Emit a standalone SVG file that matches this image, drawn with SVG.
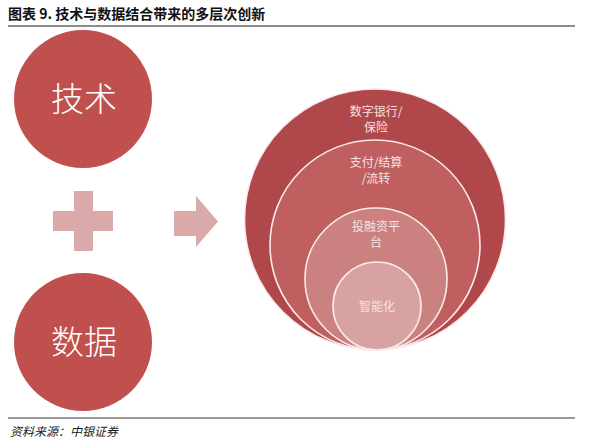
<svg xmlns="http://www.w3.org/2000/svg" width="597" height="444" viewBox="0 0 597 444">
<style>
.cj{font-family:"Noto Sans CJK SC","Noto Sans",sans-serif}
.big{font-size:33px;font-weight:300;fill:#fff;text-anchor:middle}
.lbl{font-size:12px;fill:#f5e2e1;text-anchor:middle}
.ring{stroke:#fbeaea;stroke-width:1.6}
</style>
<rect width="597" height="444" fill="#fff"/>
<text class="cj" x="8" y="19" font-size="14" font-weight="bold" fill="#111">图表 9. 技术与数据结合带来的多层次创新</text>
<line x1="8" y1="26" x2="575" y2="26" stroke="#8c8c8c" stroke-width="2"/>
<g id="tech"><circle cx="83" cy="99" r="69" fill="#c0504d"/><text class="cj big" x="84" y="111">技术</text></g>
<g id="data"><circle cx="83" cy="342" r="69" fill="#c0504d"/><text class="cj big" x="84" y="354">数据</text></g>
<g id="plus"><path d="M74 191H93V211H113V231H93V251H74V231H53V211H74Z" fill="#d9aaa9"/></g>
<g id="arrow"><path d="M174 211H196V196L218 221.5L196 247V236H174Z" fill="#d9aaa9"/></g>
<g id="layers">
<circle class="ring" cx="375" cy="219.5" r="130.5" fill="#b0474a"/>
<circle class="ring" cx="375" cy="245" r="105" fill="#bf5f5f"/>
<circle class="ring" cx="376" cy="279" r="71" fill="#cc8181"/>
<circle class="ring" cx="377" cy="306" r="44" fill="#d9a2a2"/>
<text class="cj lbl" x="376" y="116">数字银行/</text>
<text class="cj lbl" x="376" y="132">保险</text>
<text class="cj lbl" x="376" y="167">支付/结算</text>
<text class="cj lbl" x="376" y="183">/流转</text>
<text class="cj lbl" x="376" y="231">投融资平</text>
<text class="cj lbl" x="376" y="247">台</text>
<text class="cj lbl" x="377" y="311">智能化</text>
</g>
<line x1="8" y1="418" x2="575" y2="418" stroke="#333" stroke-width="1"/>
<text class="cj" x="10" y="436" font-size="12" font-style="italic" fill="#222">资料来源：中银证券</text>
</svg>
